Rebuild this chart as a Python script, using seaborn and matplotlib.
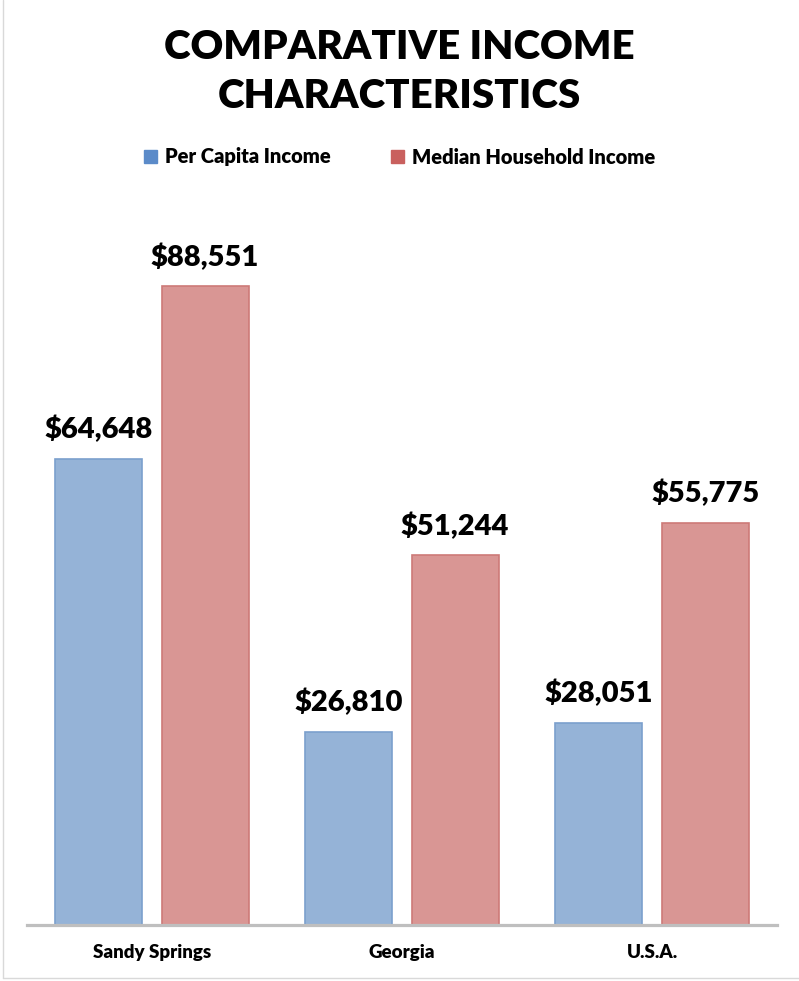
import pandas as pd
import seaborn as sns
import matplotlib.pyplot as plt
from matplotlib.lines import Line2D

# datos
regiones = ['Sandy Springs', 'Georgia', 'U.S.A.']
series = ['Per Capita Income', 'Median Household Income']
per_capita = [64648, 26810, 28051]
mediana_hogar = [88551, 51244, 55775]

datos = pd.DataFrame({
    'region': regiones * 2,
    'serie': [series[0]] * 3 + [series[1]] * 3,
    'valor': per_capita + mediana_hogar,
})

sns.set_theme(style='white')
plt.rcParams['font.family'] = ['Lato', 'DejaVu Sans']
plt.rcParams['text.color'] = 'black'

colores = {series[0]: '#95B3D7', series[1]: '#D99694'}
bordes = ['#7BA0CD', '#CD7A78']

fig = plt.figure(figsize=(7.99, 9.81), dpi=100)
ax = fig.add_axes([27 / 799, 1 - 925 / 981, 750 / 799, (925 - 203.4) / 981])

sns.barplot(data=datos, x='region', y='valor', hue='serie', palette=colores,
            saturation=1, width=0.85, gap=0.18, ax=ax, legend=False)

for cont, borde in zip(ax.containers, bordes):
    for barra in cont:
        barra.set_edgecolor(borde)
        barra.set_linewidth(1.2)
    ax.bar_label(cont, labels=['${:,.0f}'.format(v) for v in cont.datavalues],
                 padding=11, fontsize=21, fontweight='heavy', color='black')

ax.set_ylim(0, 100000)
ax.set_xlim(-0.5, 2.5)
ax.set_xlabel('')
ax.set_ylabel('')
ax.set_yticks([])
ax.tick_params(axis='x', length=0, pad=14)
for lbl in ax.get_xticklabels():
    lbl.set_fontsize(13.5)
    lbl.set_fontweight('heavy')
    lbl.set_color('black')
for lado in ['left', 'right', 'top']:
    ax.spines[lado].set_visible(False)
ax.spines['bottom'].set_color('#BFBFBF')
ax.spines['bottom'].set_linewidth(2.3)

# titulo
fig.text(0.5, 1 - 72 / 981, 'COMPARATIVE INCOME\nCHARACTERISTICS', ha='center', va='center',
         fontsize=29, fontweight='heavy', linespacing=1.4, color='black')

# leyenda
handles = [plt.Rectangle((0, 0), 1, 1, color=c) for c in ['#5B8BC9', '#C9605E']]
leg = fig.legend(handles, series, loc='center', bbox_to_anchor=(0.5, 1 - 157 / 981), ncol=2,
                 frameon=False, prop={'weight': 'heavy', 'size': 14.5}, handlelength=0.65,
                 handleheight=0.65, handletextpad=0.4, columnspacing=3.0)
for t in leg.get_texts():
    t.set_color('black')

# borde
fig.add_artist(Line2D([2.5 / 799, 2.5 / 799], [3 / 981, 1], color='#D9D9D9', lw=1))
fig.add_artist(Line2D([2.5 / 799, 1], [3 / 981, 3 / 981], color='#D9D9D9', lw=1))

fig.savefig('out.png', dpi=100)
